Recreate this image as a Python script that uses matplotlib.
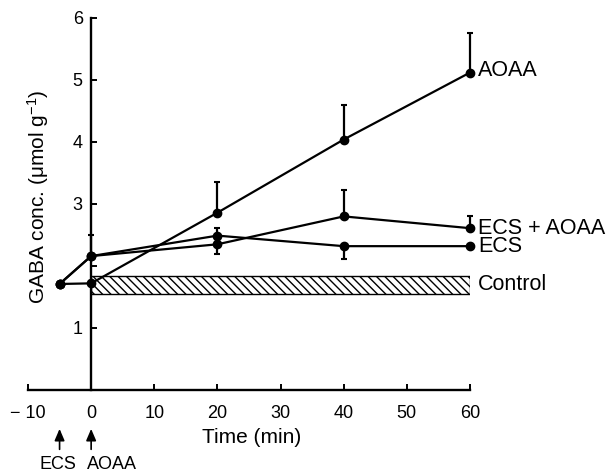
import matplotlib

matplotlib.use("Agg")
import matplotlib.pyplot as plt
import numpy as np

plt.rcParams["font.family"] = ["Liberation Sans", "DejaVu Sans"]
plt.rcParams["mathtext.default"] = "regular"
plt.rcParams["hatch.linewidth"] = 1.0

# time points (min) and GABA concentrations
times = [-5, 0, 20, 40, 60]
aoaa = [1.71, 1.72, 2.86, 4.04, 5.12]
aoaa_err_lo = [0, 0, 0, 0, 0]
aoaa_err_hi = [0, 0, 0.50, 0.55, 0.64]
ecs_aoaa = [1.71, 2.16, 2.35, 2.80, 2.61]
ecs_aoaa_err_lo = [0, 0, 0.15, 0, 0]
ecs_aoaa_err_hi = [0, 0, 0, 0.43, 0.19]
ecs = [1.71, 2.16, 2.49, 2.32, 2.32]
ecs_err_lo = [0, 0, 0, 0.21, 0]
ecs_err_hi = [0, 0.34, 0.13, 0, 0]
control_lo = 1.55
control_hi = 1.84

xticks = [-10, 0, 10, 20, 30, 40, 50, 60]
xtick_labels = ["\u2212 10", "0", "10", "20", "30", "40", "50", "60"]
yticks = [1, 2, 3, 4, 5, 6]
ytick_labels = ["1", "", "3", "4", "5", "6"]

W, H = 614, 474
fig = plt.figure(figsize=(W / 100, H / 100), dpi=100)
ax = fig.add_axes([28 / W, (H - 390) / H, (470 - 28) / W, (390 - 18) / H])

ax.fill_between([0, 60], control_lo, control_hi, facecolor="white",
                edgecolor="black", hatch="\\\\\\\\", linewidth=1.0, zorder=1)

for vals, lo, hi in [(aoaa, aoaa_err_lo, aoaa_err_hi),
                     (ecs_aoaa, ecs_aoaa_err_lo, ecs_aoaa_err_hi),
                     (ecs, ecs_err_lo, ecs_err_hi)]:
    ax.plot(times, vals, color="black", lw=1.6, marker="o", ms=6,
            clip_on=False, zorder=3)
    ax.errorbar(times, vals, yerr=[lo, hi], fmt="none", ecolor="black",
                elinewidth=1.6, capsize=2.5, capthick=1.5, clip_on=False, zorder=3)

# end labels sit at the last value of each curve
lab_x = 61.3
ax.text(lab_x, aoaa[-1] + 0.03, "AOAA", fontsize=15.5, va="center", ha="left")
ax.text(lab_x, (ecs_aoaa[-1] + ecs[-1]) / 2, "ECS + AOAA\nECS", fontsize=15.5,
        va="center", ha="left", linespacing=0.82)
ax.text(lab_x, (control_lo + control_hi) / 2, "Control", fontsize=15.5,
        va="center", ha="left")

ax.set_xlim(-10, 60)
ax.set_ylim(0, 6)
ax.spines["left"].set_position(("data", 0))
ax.spines["top"].set_visible(False)
ax.spines["right"].set_visible(False)
for sp in ("left", "bottom"):
    ax.spines[sp].set_linewidth(1.7)

ax.set_xticks(xticks)
ax.set_xticklabels(xtick_labels)
ax.set_yticks(yticks)
ax.set_yticklabels(ytick_labels)
ax.tick_params(direction="in", length=4, width=1.4, labelsize=13)
ax.tick_params(axis="x", pad=11)
ax.tick_params(axis="y", pad=6)

ax.text(25.4, -0.127, "Time (min)", transform=ax.get_xaxis_transform(),
        fontsize=15, ha="center", va="center")
ax.text(-8.4, 3.11, "GABA conc. (\u03bcmol g$^{\u22121}$)", rotation=90,
        fontsize=15, va="center", ha="center")

# dosing arrows below the axis
trans = ax.get_xaxis_transform()
for x_arrow in (-5, 0):
    ax.annotate("", xy=(x_arrow, -0.097), xytext=(x_arrow, -0.167),
                xycoords=trans, textcoords=trans,
                arrowprops=dict(arrowstyle="-|>,head_length=0.7,head_width=0.3",
                                color="black", lw=1.2))
narrow = ["Liberation Sans Narrow", "Liberation Sans", "DejaVu Sans"]
ax.text(-5.3, -0.2, "ECS", transform=trans, fontsize=13, ha="center",
        va="center", family=narrow)
ax.text(-0.7, -0.2, "AOAA", transform=trans, fontsize=13, ha="left",
        va="center", family=narrow)

fig.savefig("out.png", dpi=100)
